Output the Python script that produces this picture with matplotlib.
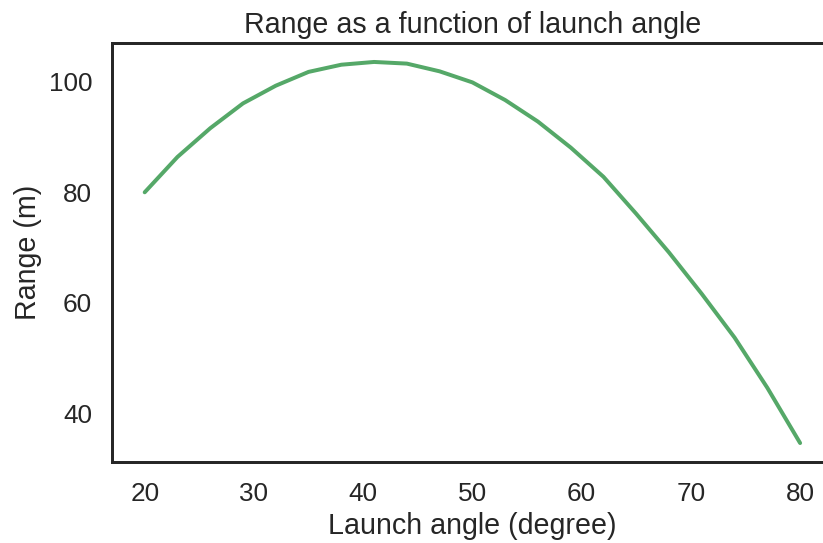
import matplotlib
matplotlib.use("Agg")
import matplotlib.pyplot as plt
import seaborn as sns

# launch angle (degree) and range (m)
angle = [20, 23, 26, 29, 32, 35, 38, 41, 44, 47, 50, 53, 56, 59, 62, 65, 68, 71, 74, 77, 80]
range_m = [80.0, 86.4, 91.6, 96.1, 99.3, 101.8, 103.1, 103.6, 103.3, 101.9, 99.9,
           96.7, 92.8, 88.1, 82.8, 76.1, 69.1, 61.6, 53.7, 44.6, 34.6]

sns.set_theme(context="talk", style="white")
plt.rcParams['font.family'] = ['Liberation Sans', 'DejaVu Sans']

dpi = 114.3
fig = plt.figure(figsize=(823 / dpi, 543 / dpi), dpi=dpi)
ax = fig.add_axes([0.136, 0.149, 1.012 - 0.136, 0.921 - 0.149])
ax.plot(angle, range_m, color=sns.color_palette("deep")[2], lw=2.5)
ax.set_xticks([20, 30, 40, 50, 60, 70, 80])
ax.set_yticks([40, 60, 80, 100])
ax.set_xlabel("Launch angle (degree)")
ax.set_ylabel("Range (m)")
ax.set_title("Range as a function of launch angle")

fig.savefig("out.png", dpi=dpi)
